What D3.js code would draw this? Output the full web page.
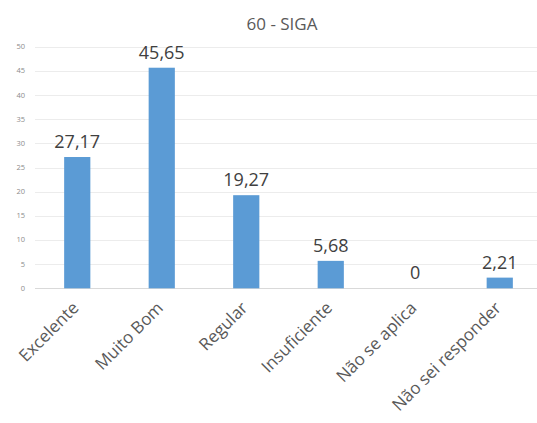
<!DOCTYPE html>
<html><head><meta charset="utf-8">
<script src="https://cdn.jsdelivr.net/npm/d3@7"></script>
<style>body{margin:0;background:#fff}svg{display:block}</style>
</head><body>
<script>
const categories = ["Excelente","Muito Bom","Regular","Insuficiente","Não se aplica","Não sei responder"];
const values = [27.17,45.65,19.27,5.68,0,2.21];
const valueLabels = ["27,17","45,65","19,27","5,68","0","2,21"];
const yTicks = [0,5,10,15,20,25,30,35,40,45,50];
const title = "60 - SIGA";

const W=537,H=423;
const svg=d3.select("body").append("svg").attr("width",W).attr("height",H);
const font="'Open Sans', 'Liberation Sans', sans-serif";
const x=d3.scaleBand().domain(categories).range([35,542]).paddingInner(0.69).paddingOuter(0.345);
const y=d3.scaleLinear().domain([0,50]).range([288.3,46.7]);

svg.append("text").attr("x",282).attr("y",30).attr("text-anchor","middle")
  .attr("font-family",font).attr("font-size",17).attr("fill","#595959").text(title);

svg.append("g").selectAll("line").data(yTicks).join("line")
  .attr("x1",35).attr("x2",537).attr("y1",d=>Math.round(y(d))+0.5).attr("y2",d=>Math.round(y(d))+0.5)
  .attr("stroke",d=>d===0?"#d9d9d9":"#ececec").attr("stroke-width",1);
svg.append("g").selectAll("text").data(yTicks).join("text")
  .attr("x",25).attr("y",d=>y(d)+2.5).attr("text-anchor","end")
  .attr("font-family",font).attr("font-size",7.5).attr("fill","#8c8c8c").text(d=>d);

svg.append("g").selectAll("rect").data(values).join("rect")
  .attr("x",(d,i)=>x(categories[i])).attr("width",x.bandwidth())
  .attr("y",d=>y(d)).attr("height",d=>y(0)-y(d)).attr("fill","#5B9BD5");

svg.append("g").selectAll("text").data(values).join("text")
  .attr("x",(d,i)=>x(categories[i])+x.bandwidth()/2).attr("y",d=>y(d)-9)
  .attr("text-anchor","middle").attr("font-family",font).attr("font-size",18)
  .attr("fill","#404040").text((d,i)=>valueLabels[i]);

svg.append("g").selectAll("text").data(categories).join("text")
  .attr("transform",d=>`translate(${x(d)+x.bandwidth()/2+2.5},309) rotate(-45)`)
  .attr("text-anchor","end").attr("font-family",font).attr("font-size",17)
  .attr("fill","#595959").text(d=>d);
</script>
</body></html>
